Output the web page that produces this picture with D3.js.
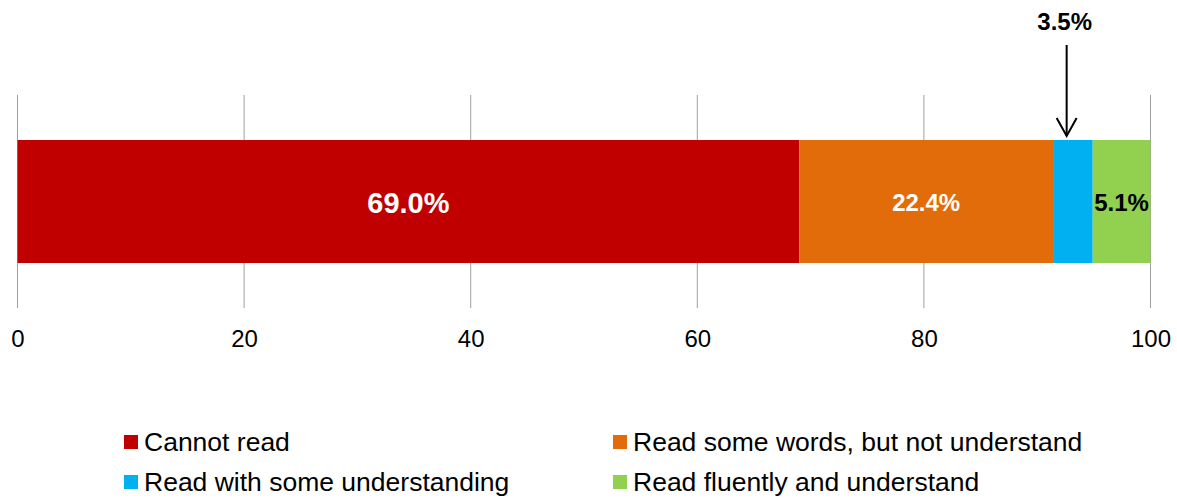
<!DOCTYPE html>
<html><head><meta charset="utf-8">
<script src="https://cdn.jsdelivr.net/npm/d3@7"></script>
<style>body{margin:0;background:#fff;} svg{display:block;font-family:"Liberation Sans",Arial,sans-serif;}</style>
</head><body>
<script>
const categories = ["Cannot read","Read some words, but not understand","Read with some understanding","Read fluently and understand"];
const values = [69.0, 22.4, 3.5, 5.1];
const labels = ["69.0%","22.4%","3.5%","5.1%"];
const colors = ["#C00000","#E36C0A","#00B0F0","#92D050"];
const ticks = [0,20,40,60,80,100];

const W=1177,H=498;
const svg=d3.select("body").append("svg").attr("width",W).attr("height",H);
const x=d3.scaleLinear().domain([0,100]).range([17.5,1150.5]);

// gridlines
svg.append("g").selectAll("line").data(ticks).join("line")
  .attr("x1",d=>x(d)).attr("x2",d=>x(d)).attr("y1",95).attr("y2",308)
  .attr("stroke","#a0a0a0").attr("stroke-width",1);

// stacked
let cum=0;
const segs=values.map((v,i)=>{const s={i,v,x0:cum,x1:cum+v};cum+=v;return s;});
svg.append("g").selectAll("rect").data(segs).join("rect")
  .attr("x",d=>x(d.x0)).attr("width",d=>x(d.x1)-x(d.x0))
  .attr("y",140).attr("height",123)
  .attr("fill",d=>colors[d.i]);

// axis tick labels
const axis=d3.axisBottom(x).tickValues(ticks).tickSize(0).tickPadding(0);
const ag=svg.append("g").attr("transform","translate(0,330)").call(axis);
ag.select(".domain").remove();
ag.selectAll("text").attr("font-size",24).attr("fill","#000").attr("font-family","Liberation Sans, Arial, sans-serif");

// bar labels
const mid=d=>(x(d.x0)+x(d.x1))/2;
svg.append("text").attr("x",mid(segs[0])).attr("y",213).attr("text-anchor","middle")
  .attr("font-size",29).attr("font-weight","bold").attr("fill","#fff").text(labels[0]);
svg.append("text").attr("x",mid(segs[1])).attr("y",211).attr("text-anchor","middle")
  .attr("font-size",24).attr("font-weight","bold").attr("fill","#fff").text(labels[1]);
svg.append("text").attr("x",mid(segs[3])).attr("y",211).attr("text-anchor","middle")
  .attr("font-size",24).attr("font-weight","bold").attr("fill","#000").text(labels[3]);

// arrow annotation for 3.5%
const ax=x(segs[2].x0+1.2);
svg.append("text").attr("x",ax-2).attr("y",30).attr("text-anchor","middle")
  .attr("font-size",24).attr("font-weight","bold").attr("fill","#000").text(labels[2]);
svg.append("line").attr("x1",ax).attr("x2",ax).attr("y1",45).attr("y2",136)
  .attr("stroke","#000").attr("stroke-width",2);
svg.append("path").attr("d",`M${ax-10},${118} L${ax},${136} L${ax+10},${118}`)
  .attr("fill","none").attr("stroke","#000").attr("stroke-width",2);

// legend
const legPos=[[124,435],[613,435],[124,475],[613,475]];
const lg=svg.append("g").selectAll("g").data(categories).join("g")
  .attr("transform",(d,i)=>`translate(${legPos[i][0]},${legPos[i][1]})`);
lg.append("rect").attr("x",0).attr("y",0).attr("width",14).attr("height",14).attr("fill",(d,i)=>colors[i]);
lg.append("text").attr("x",20).attr("y",16).attr("font-size",26.5).attr("fill","#000").text(d=>d);
</script>
</body></html>
